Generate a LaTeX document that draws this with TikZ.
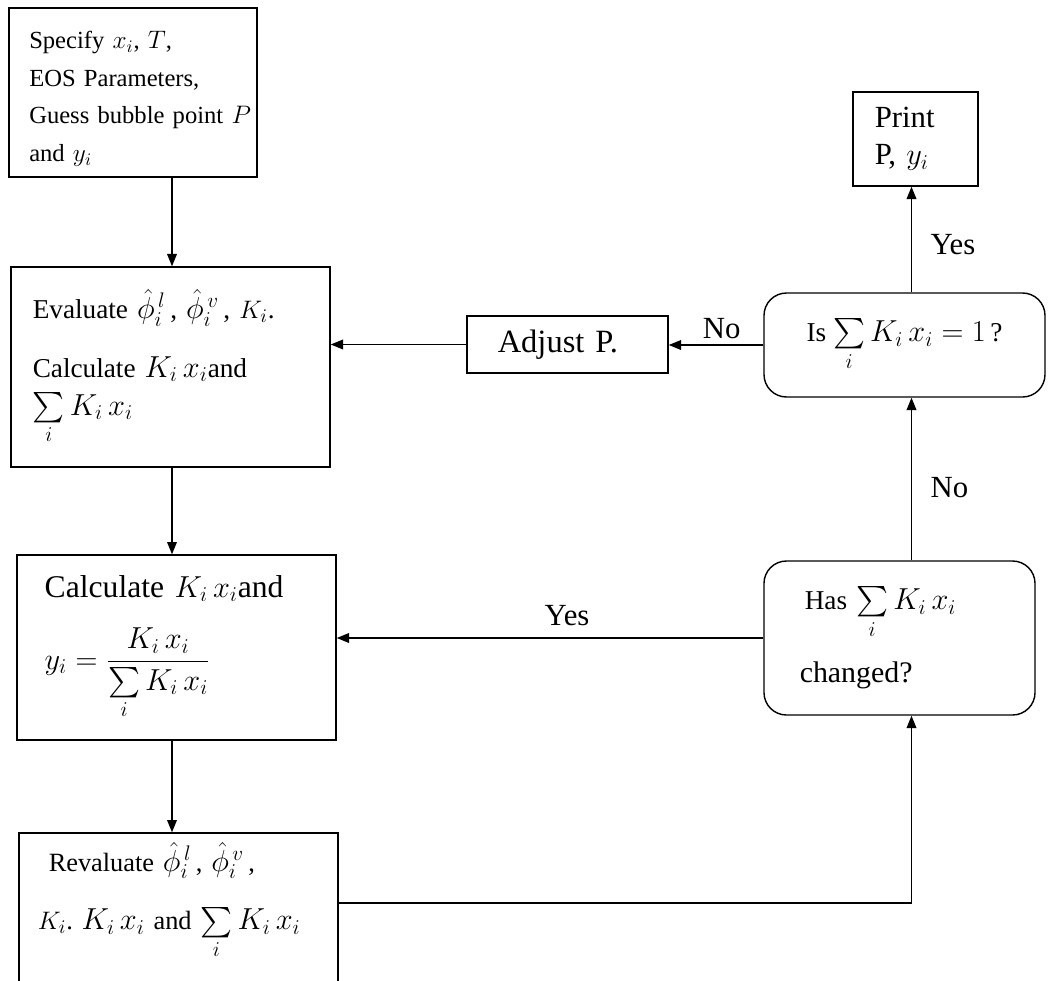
\documentclass[tikz,border=0pt]{standalone}
\usepackage{amsmath}
\usepackage{fontspec}
\setmainfont{Liberation Serif}
\usetikzlibrary{arrows.meta}
% bigger math, as the equation objects of the source
\newcommand{\eqn}[1]{{\fontsize{18}{21}\selectfont$#1$}}
\newcommand{\kx}{K_i\,x_i}
\tikzset{
    procbox/.style = {draw, line width=0.8pt, rectangle, inner xsep=3pt, inner ysep=2pt},
    testbox/.style = {procbox, rounded corners=0.45cm},
    padleft/.style n args = {2}{text width=#1, align=left, execute at begin node={\leftskip=#2\relax}},
    flow/.style = {line width=0.8pt, -{Triangle[length=7pt,width=5.5pt]}},
    lbl/.style = {font=\fontsize{17.5}{21}\selectfont}
}
\begin{document}
\begin{tikzpicture}[font=\fontsize{15.5}{21.5}\selectfont]
    \useasboundingbox (0,0) rectangle (20.96,-19.6);
    \coordinate (lspine) at (3.44,0);
    \coordinate (rspine) at (18.23,0);
    \coordinate (turn) at (18.23,-18.06);

    % left column
    \node [procbox, padleft={4.75cm}{0.30cm}, minimum width=4.96cm, minimum height=3.38cm,
           font=\fontsize{14}{21.5}\selectfont] (spec) at (2.66,-1.85)
        {\rule{0pt}{17pt}Specify $x_i$, $T$,\\ EOS Parameters,\\ \mbox{Guess bubble point $P$}\\ and $y_i$};
    \node [procbox, padleft={6.17cm}{0.33cm}, minimum width=6.38cm, minimum height=4.0cm] (evalb) at (3.41,-7.34)
        {Evaluate \eqn{\hat{\phi}_i^{\,l}}\,, \eqn{\hat{\phi}_i^{\,v}}\,, $K_i$.\\[12pt]
         Calculate \eqn{\kx}and\\ \eqn{\sum\limits_i \kx}};
    \node [procbox, padleft={6.17cm}{0.45cm}, minimum width=6.38cm, minimum height=3.70cm,
           font=\fontsize{18}{21}\selectfont] (calcb) at (3.53,-12.95)
        {Calculate \eqn{\kx}and\\[14pt] \eqn{\displaystyle y_i = \frac{\kx}{\sum\limits_i \kx}}};
    \node [procbox, padleft={6.17cm}{0.27cm}, minimum width=6.38cm, minimum height=3.10cm,
           font=\fontsize{15}{21.5}\selectfont] (revalb) at (3.57,-18.21)
        {\hspace*{0.22cm}Revaluate \eqn{\hat{\phi}_i^{\,l}}\,, \eqn{\hat{\phi}_i^{\,v}}\,,\\[12pt]
         $K_i$.\ \eqn{\kx} and \eqn{\sum\limits_i \kx}\rule[-28pt]{0pt}{1pt}};

    % middle and right column
    \node [procbox, padleft={3.81cm}{0.51cm}, minimum width=4.02cm, minimum height=1.14cm,
           font=\fontsize{18.5}{21}\selectfont] (adjust) at (11.35,-6.89) {Adjust P.};
    \node [testbox, minimum width=5.62cm, minimum height=2.08cm] (isb) at (18.09,-6.90)
        {Is \eqn{\sum\limits_i \kx = 1}\,?};
    \node [testbox, padleft={5.21cm}{0.61cm}, minimum width=5.42cm, minimum height=3.08cm] (hasb) at (17.99,-12.76)
        {\hspace*{0.1cm}Has \eqn{\sum\limits_i \kx}\\[12pt] {\fontsize{17}{21}\selectfont changed?}};
    \node [procbox, lbl, padleft={2.29cm}{0.33cm}, minimum width=2.50cm, minimum height=1.88cm] (printb) at (18.31,-2.78)
        {Print\\ P, $y_i$};

    % connectors
    \draw [flow] (spec.south -| lspine) -- (evalb.north -| lspine);
    \draw [flow] (evalb.south -| lspine) -- (calcb.north -| lspine);
    \draw [flow] (calcb.south -| lspine) -- (revalb.north -| lspine);
    \draw [flow] (turn -| revalb.east) -- (turn) -- (hasb.south -| turn);
    \draw [flow] (hasb.north -| rspine) -- node [lbl, pos=0.45, right=0.25cm] {No} (isb.south -| rspine);
    \draw [flow] (isb.north -| rspine) -- node [lbl, pos=0.45, right=0.25cm] {Yes} (printb.south -| rspine);
    \draw [flow] (isb.west) -- node [lbl, pos=0.44, above=0pt] {No} (isb.west -| adjust.east);
    \draw [flow] (adjust.west) -- (adjust.west -| evalb.east);
    \draw [flow] (hasb.west) -- node [lbl, pos=0.46, above=0.12cm] {Yes} (hasb.west -| calcb.east);
\end{tikzpicture}
\end{document}
